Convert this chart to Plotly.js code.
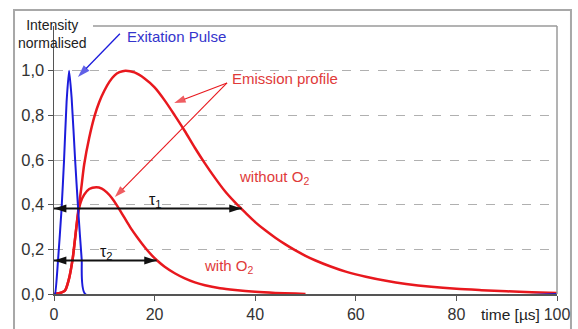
<!DOCTYPE html>
<html>
<head>
<meta charset="utf-8">
<script src="https://cdn.plot.ly/plotly-3.0.1.min.js"></script>
<style>html,body{margin:0;padding:0;background:#fff;}#chart{width:578px;height:329px;}</style>
</head>
<body>
<div id="chart"></div>
<script>
// Excitation pulse
var pulseTime  = [0, 0.2, 0.8, 1.5, 2.0, 2.5, 3.0, 3.5, 4.2, 4.8, 5.5, 6.2, 100];
var pulseValue = [0, 0.0, 0.15, 0.38, 0.6, 0.86, 1.0, 0.88, 0.6, 0.38, 0.156, 0, 0];

// Emission profile without O2
var noO2Time  = [0, 1, 2, 2.3, 3, 3.7, 4.2, 4.8, 5.4, 6, 7, 8.1, 9, 10, 11, 12, 13, 14.2, 16, 18, 20, 22, 24, 26, 28, 30, 32, 34, 36, 38, 40, 42, 44, 46, 48, 50, 52, 55, 58, 62, 66, 70, 75, 80, 85, 90, 95, 100];
var noO2Value = [0, 0.003, 0.012, 0.02, 0.07, 0.156, 0.25, 0.37, 0.47, 0.58, 0.70, 0.80, 0.86, 0.91, 0.95, 0.978, 0.993, 1.0, 0.992, 0.965, 0.925, 0.867, 0.80, 0.73, 0.655, 0.585, 0.52, 0.46, 0.41, 0.365, 0.322, 0.285, 0.252, 0.222, 0.195, 0.171, 0.15, 0.123, 0.10, 0.077, 0.059, 0.045, 0.032, 0.023, 0.017, 0.012, 0.008, 0.005];

// Emission profile with O2
var withO2Time  = [0, 1, 2, 2.3, 3, 3.7, 4.2, 4.8, 5.3, 6, 7, 8.4, 9.5, 10.5, 11.5, 12.5, 13.5, 14.5, 15.5, 16.5, 17.5, 18.5, 19.5, 20.5, 22, 24, 26, 28, 30, 33, 36, 40, 44, 48, 50];
var withO2Value = [0, 0.003, 0.012, 0.02, 0.07, 0.156, 0.25, 0.36, 0.41, 0.445, 0.47, 0.478, 0.472, 0.455, 0.43, 0.397, 0.36, 0.323, 0.287, 0.255, 0.225, 0.197, 0.172, 0.15, 0.122, 0.093, 0.07, 0.052, 0.039, 0.026, 0.018, 0.01, 0.005, 0.002, 0];

// Decay times (arrow ends) and the levels at which they are marked
var tauNames  = ['τ<sub>1</sub>', 'τ<sub>2</sub>'];
var tauValues = [37.3, 20.4];
var tauLevels = [0.383, 0.15];

// Axis ticks
var xTicks = [0, 20, 40, 60, 80, 100];
var yTicks = [0, 0.2, 0.4, 0.6, 0.8, 1.0];
var yTickText = ['0,0', '0,2', '0,4', '0,6', '0,8', '1,0'];

var RED = '#e8181e', BLUE = '#1c1cdc';
var TXT_RED = '#e03a3a', TXT_BLUE = '#3434cc';
var FONT = 'Liberation Sans, Arial, sans-serif';

var traces = [
  {x: withO2Time, y: withO2Value, mode: 'lines', line: {color: RED, width: 2.5, shape: 'spline', smoothing: 0.8}, hoverinfo: 'skip'},
  {x: noO2Time, y: noO2Value, mode: 'lines', line: {color: RED, width: 2.5, shape: 'spline', smoothing: 0.8}, hoverinfo: 'skip'},
  {x: pulseTime, y: pulseValue, mode: 'lines', line: {color: BLUE, width: 2, shape: 'spline', smoothing: 0.5}, hoverinfo: 'skip'}
];

// pointer arrows: [tailX, tailY, tipX, tipY, color, lineWidth, headSize]
var pointers = [
  [13.1, 1.165, 4.77, 0.972, BLUE, 1.3, 13],
  [34.4, 0.945, 23.9, 0.855, RED, 1.1, 12],
  [34.4, 0.945, 12.1, 0.434, RED, 1.1, 12]
];
pointers.forEach(function (p) {
  traces.push({x: [p[0], p[2]], y: [p[1], p[3]], mode: 'lines+markers', hoverinfo: 'skip',
    line: {color: p[4], width: p[5]},
    marker: {symbol: 'arrow', size: [0, p[6]], angleref: 'previous', color: p[4], line: {width: 0}}});
});

// double-headed tau arrows
for (var i = 0; i < tauValues.length; i++) {
  traces.push({x: [0, tauValues[i]], y: [tauLevels[i], tauLevels[i]], mode: 'lines+markers', hoverinfo: 'skip',
    line: {color: '#111', width: 2},
    marker: {symbol: 'arrow', size: 13, angle: [-90, 90], color: '#111', line: {width: 0}}});
}

var annotations = [
  {xref: 'paper', yref: 'paper', x: -0.004, y: 0.972, text: 'Intensity<br>normalised', showarrow: false,
   font: {family: FONT, size: 14, color: '#222'}, xanchor: 'center', yanchor: 'middle'},
  {xref: 'paper', yref: 'paper', x: 0.9066, y: -0.078, text: 'time [µs]', showarrow: false,
   font: {family: FONT, size: 15.5, color: '#222'}, xanchor: 'center', yanchor: 'middle'},
  {x: 14.1, y: 1.155, text: 'Exitation Pulse', showarrow: false, xanchor: 'left', yanchor: 'middle',
   font: {family: FONT, size: 15, color: TXT_BLUE}},
  {x: 35.0, y: 0.967, text: 'Emission profile', showarrow: false, xanchor: 'left', yanchor: 'middle',
   font: {family: FONT, size: 15, color: TXT_RED}},
  {x: 36.4, y: 0.52, text: 'without O<sub>2</sub>', showarrow: false, xanchor: 'left', yanchor: 'middle',
   font: {family: FONT, size: 15, color: TXT_RED}},
  {x: 29.4, y: 0.121, text: 'with O<sub>2</sub>', showarrow: false, xanchor: 'left', yanchor: 'middle',
   font: {family: FONT, size: 15, color: TXT_RED}}
];
var tauLabelX = [18.5, 8.7];
var tauLabelY = [0.42, 0.184];
for (var j = 0; j < tauValues.length; j++) {
  annotations.push({x: tauLabelX[j], y: tauLabelY[j], text: tauNames[j], showarrow: false,
    xanchor: 'left', yanchor: 'middle', font: {family: FONT, size: 16, color: '#111'}});
}

var layout = {
  width: 578, height: 329,
  margin: {l: 54, r: 21, t: 26, b: 35, pad: 0},
  paper_bgcolor: '#fff', plot_bgcolor: '#fff',
  showlegend: false,
  font: {family: FONT, color: '#333'},
  xaxis: {range: [0, 100], tickvals: xTicks, ticktext: xTicks.map(String), ticks: 'outside', ticklen: 5,
    tickcolor: '#555', showline: true, linecolor: '#555', linewidth: 1.5, showgrid: false, zeroline: false,
    tickfont: {family: FONT, size: 16, color: '#333'}, fixedrange: true},
  yaxis: {range: [0, 1.2], tickvals: yTicks, ticktext: yTickText, ticks: 'outside', ticklen: 5,
    tickcolor: '#555', showline: true, linecolor: '#555', linewidth: 1.5, showgrid: true,
    gridcolor: '#b0b0b0', griddash: 'dash', gridwidth: 1, zeroline: false,
    tickfont: {family: FONT, size: 16.5, color: '#333'}, fixedrange: true},
  shapes: [
    {type: 'rect', xref: 'paper', yref: 'paper', x0: -0.0795, x1: 1.0278, y0: -0.3, y1: 1.0597,
     line: {color: '#a8a8a8', width: 2}, fillcolor: 'rgba(0,0,0,0)', layer: 'below'},
    {type: 'line', xref: 'paper', yref: 'paper', x0: 0.0775, x1: 1, y0: 1, y1: 1,
     line: {color: '#9a9a9a', width: 1.5}},
    {type: 'line', xref: 'paper', yref: 'paper', x0: 1, x1: 1, y0: 0, y1: 1,
     line: {color: '#9a9a9a', width: 1.5}}
  ],
  annotations: annotations
};

Plotly.newPlot('chart', traces, layout, {displayModeBar: false, staticPlot: true});
</script>
</body>
</html>
